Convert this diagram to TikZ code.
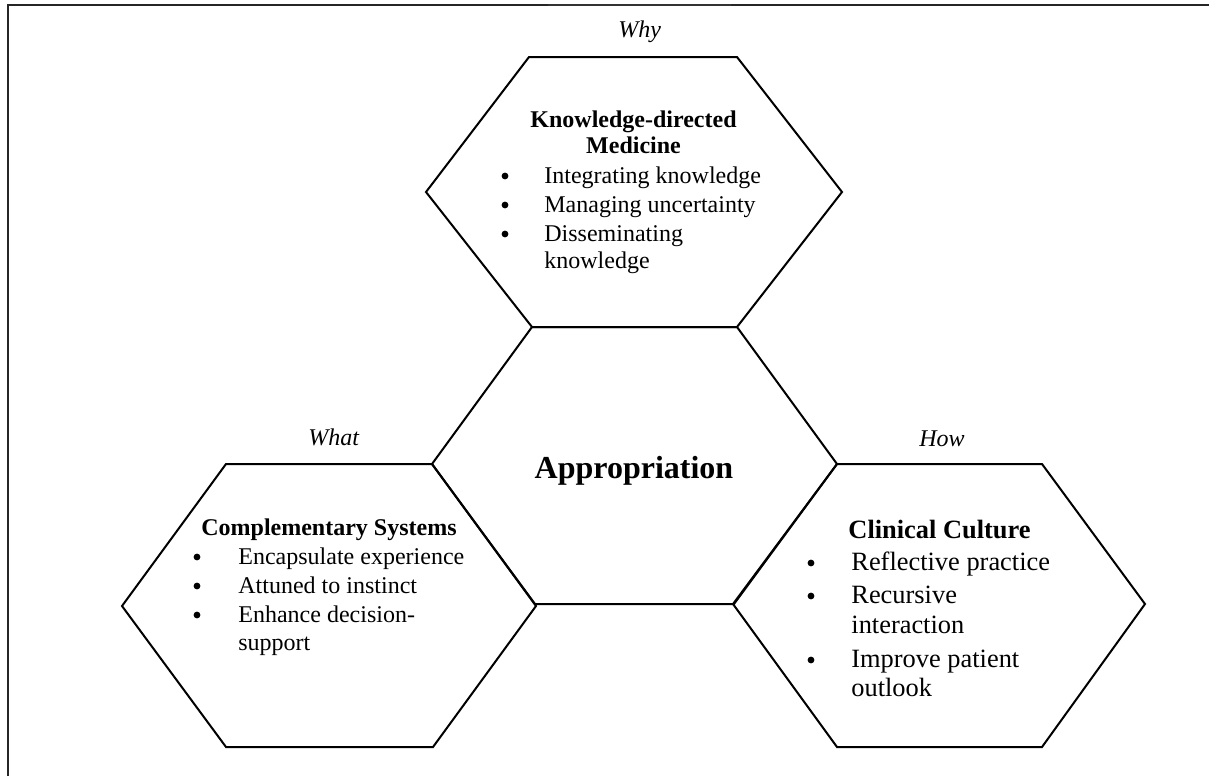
\documentclass[tikz,border=0pt]{standalone}
\usepackage{fontspec}
\setmainfont{Liberation Serif}
\begin{document}
\begin{tikzpicture}[x=0.5pt,y=-0.5pt,
  hexline/.style={line width=1pt,line join=miter},
  frameline/.style={line width=1.1pt,black!85},
  txt/.style={anchor=base west,inner sep=0pt,font=\fontsize{12}{14}\selectfont},
  txtb/.style={anchor=base,inner sep=0pt,font=\fontsize{12}{14}\selectfont\bfseries},
  rtxt/.style={anchor=base west,inner sep=0pt,font=\fontsize{13.2}{15}\selectfont},
  rtxtb/.style={anchor=base,inner sep=0pt,font=\fontsize{13.2}{15}\selectfont\bfseries},
  bul/.style={circle,fill=black,inner sep=0pt,minimum size=3.4pt},
  lbl/.style={anchor=base west,inner sep=0pt,font=\fontsize{12}{14}\selectfont\itshape}]
\useasboundingbox (0,0) rectangle (1209,776);
% frame
\draw[frameline] (8,776) -- (8,5) -- (548,5);
\draw[line width=0.6pt,black!80] (548,5) -- (731,5);
\draw[frameline] (731,5) -- (1209,5);
% hexagons
\draw[hexline] (529,57) -- (737,57) -- (842,192) -- (737,327) -- (532,327) -- (426,192) -- cycle;
\draw[hexline] (532,327) -- (737,327) -- (837,464) -- (734,604) -- (535,604) -- (432,464) -- cycle;
\draw[hexline] (226,464) -- (432,464) -- (536,606) -- (433,747) -- (226,747) -- (122,606) -- cycle;
\draw[hexline] (837,464) -- (1042,464) -- (1145,604) -- (1042,747) -- (837,747) -- (733,604) -- cycle;
% labels
\node[lbl] (why) at (618,37) {Why};
\node[lbl] (what) at (308,445) {What};
\node[lbl] (how) at (919,446) {How};
% top hexagon
\node[txtb] (t1) at (633.5,127) {Knowledge-directed};
\node[txtb] (t2) at (633.5,153) {Medicine};
\node[bul] (tb1) at (505,176) {};
\node[txt] (ti1) at (544,183) {Integrating knowledge};
\node[bul] (tb2) at (505,205) {};
\node[txt] (ti2) at (544,212) {Managing uncertainty};
\node[bul] (tb3) at (505,234) {};
\node[txt] (ti3) at (544,241) {Disseminating};
\node[txt] (ti4) at (544,268.5) {knowledge};
% centre
\node[anchor=base,inner sep=0pt,font=\fontsize{16}{18}\selectfont\bfseries] (app) at (634,478) {Appropriation};
% left hexagon
\node[txtb] (l1) at (329,535) {Complementary Systems};
\node[bul] (lb1) at (197,557) {};
\node[txt] (li1) at (238,564) {Encapsulate experience};
\node[bul] (lb2) at (197,586) {};
\node[txt] (li2) at (238,593) {Attuned to instinct};
\node[bul] (lb3) at (197,615) {};
\node[txt] (li3) at (238,622) {Enhance decision-};
\node[txt] (li4) at (238,650) {support};
% right hexagon
\node[rtxtb] (r1) at (939.5,538) {Clinical Culture};
\node[bul] (rb1) at (811,563) {};
\node[rtxt] (ri1) at (851,570) {Reflective practice};
\node[bul] (rb2) at (811,596) {};
\node[rtxt] (ri2) at (851,603) {Recursive};
\node[rtxt] (ri3) at (851,633) {interaction};
\node[bul] (rb3) at (811,660) {};
\node[rtxt] (ri4) at (851,667) {Improve patient};
\node[rtxt] (ri5) at (851,696) {outlook};
\end{tikzpicture}
\end{document}
